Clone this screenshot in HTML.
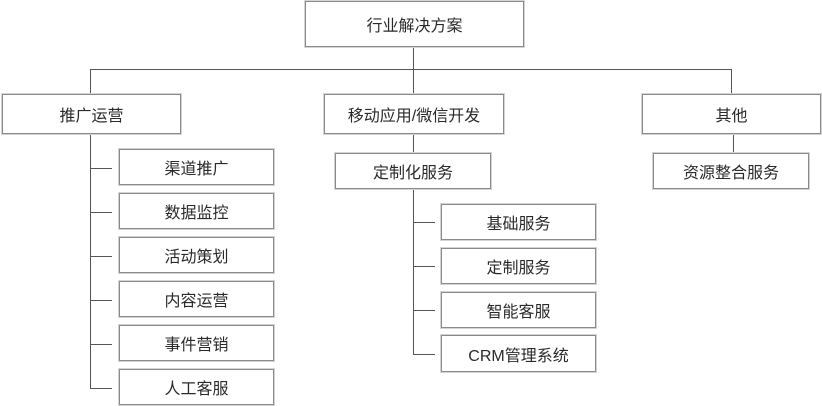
<!DOCTYPE html>
<html><head><meta charset="utf-8"><style>
html,body{margin:0;padding:0;background:#fff;}
body{width:822px;height:406px;position:relative;overflow:hidden;font-family:"Liberation Sans","Noto Sans CJK SC",sans-serif;}
.b{position:absolute;box-sizing:border-box;border:1px solid #8a8a8a;box-shadow:0 0 0 1px #d4d4d4;background:#fff;display:flex;align-items:center;justify-content:center;font-size:16px;color:#2a2a2a;white-space:nowrap;}
.h{position:absolute;height:1px;background:#555;}
.v{position:absolute;width:1px;background:#555;}
</style></head><body>
<!-- lines -->
<div class="v" style="left:413px;top:47px;height:47px"></div>
<div class="h" style="left:90px;top:69px;width:642px"></div>
<div class="v" style="left:90px;top:69px;height:25px"></div>
<div class="v" style="left:731px;top:69px;height:25px"></div>

<div class="v" style="left:90px;top:134px;height:255px"></div>
<div class="h" style="left:90px;top:168px;width:22px"></div>
<div class="h" style="left:90px;top:212px;width:22px"></div>
<div class="h" style="left:90px;top:256px;width:22px"></div>
<div class="h" style="left:90px;top:300px;width:22px"></div>
<div class="h" style="left:90px;top:344px;width:22px"></div>
<div class="h" style="left:90px;top:388px;width:22px"></div>

<div class="v" style="left:413px;top:134px;height:19px"></div>
<div class="v" style="left:413px;top:188px;height:167px"></div>
<div class="h" style="left:413px;top:222px;width:22px"></div>
<div class="h" style="left:413px;top:266px;width:22px"></div>
<div class="h" style="left:413px;top:310px;width:22px"></div>
<div class="h" style="left:413px;top:354px;width:22px"></div>

<div class="v" style="left:733px;top:134px;height:19px"></div>

<!-- boxes -->
<div class="b" style="left:305px;top:1px;width:219px;height:46px">行业解决方案</div>
<div class="b" style="left:2px;top:94px;width:179px;height:40px">推广运营</div>
<div class="b" style="left:324px;top:94px;width:180px;height:40px">移动应用/微信开发</div>
<div class="b" style="left:642px;top:94px;width:179px;height:40px">其他</div>

<div class="b" style="left:335px;top:153px;width:156px;height:36px">定制化服务</div>
<div class="b" style="left:653px;top:153px;width:156px;height:36px">资源整合服务</div>

<div class="b" style="left:119px;top:149px;width:155px;height:36px">渠道推广</div>
<div class="b" style="left:119px;top:193px;width:155px;height:36px">数据监控</div>
<div class="b" style="left:119px;top:237px;width:155px;height:36px">活动策划</div>
<div class="b" style="left:119px;top:281px;width:155px;height:36px">内容运营</div>
<div class="b" style="left:119px;top:325px;width:155px;height:36px">事件营销</div>
<div class="b" style="left:119px;top:369px;width:155px;height:36px">人工客服</div>

<div class="b" style="left:441px;top:204px;width:155px;height:36px">基础服务</div>
<div class="b" style="left:441px;top:248px;width:155px;height:36px">定制服务</div>
<div class="b" style="left:441px;top:292px;width:155px;height:36px">智能客服</div>
<div class="b" style="left:441px;top:335px;width:155px;height:37px">CRM管理系统</div>
</body></html>
